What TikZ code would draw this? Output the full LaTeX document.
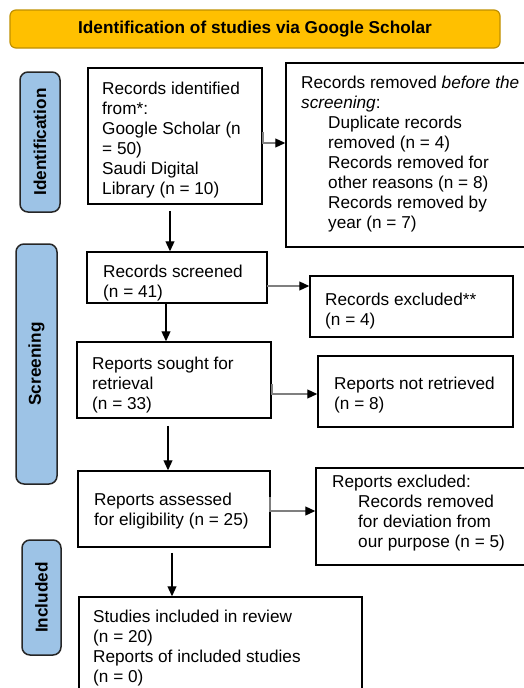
\documentclass[tikz,border=0pt]{standalone}
\usepackage{fontspec}
\setmainfont{Liberation Sans}
\usetikzlibrary{arrows.meta}
\definecolor{gold}{HTML}{FFC000}
\definecolor{golddk}{HTML}{BF9000}
\definecolor{barblue}{HTML}{9DC3E6}
\definecolor{conn}{HTML}{7F7F7F}
\begin{document}
\begin{tikzpicture}[x=1pt,y=-1pt,
  font=\fontsize{17.2}{20}\selectfont,
  box/.style={draw=black, line width=1.5pt, inner sep=0pt},
  bar/.style={draw=black!85, line width=1.5pt, fill=barblue, rounded corners=8pt, inner sep=0pt, font=\fontsize{17.2}{20}\selectfont\bfseries, rotate=90},
  txt/.style={anchor=north west, align=left, inner sep=0pt},
  varr/.style={line width=1.2pt, -{Triangle[length=10pt,width=9pt]}},
  harr/.style={line width=1.2pt, draw=conn, -{Triangle[length=10pt,width=9pt,color=black]}}]
\useasboundingbox (0,0) rectangle (523,688);

% title
\node[draw=golddk, fill=gold, line width=1.2pt, rounded corners=6pt, minimum width=490pt, minimum height=38pt, inner sep=0pt, font=\fontsize{17.2}{20}\selectfont\bfseries] (title) at (255,29) {Identification of studies via Google Scholar};

% phase bars
\node[bar, minimum width=140pt, minimum height=40pt] (bid) at (40,142) {Identification};
\node[bar, minimum width=240pt, minimum height=41pt] (bsc) at (36.5,364) {Screening};
\node[bar, minimum width=115pt, minimum height=39pt] (bin) at (41.5,597.5) {Included};

% boxes
\node[box, minimum width=174pt, minimum height=136pt] (b1) at (175,136) {};
\node[box, minimum width=244pt, minimum height=184pt] (rem) at (408,155) {};
\node[box, minimum width=180pt, minimum height=51pt] (scr) at (177,277.5) {};
\node[box, minimum width=203pt, minimum height=61pt] (exc) at (411.5,306.5) {};
\node[box, minimum width=194pt, minimum height=76pt] (sou) at (174,380) {};
\node[box, minimum width=195pt, minimum height=71pt] (nr) at (415.5,391.5) {};
\node[box, minimum width=192pt, minimum height=76pt] (ass) at (174,509) {};
\node[box, minimum width=214pt, minimum height=97pt] (exc2) at (423,516.5) {};
\node[box, minimum width=283pt, minimum height=103pt] (inc) at (220.5,648.5) {};

% texts
\node[txt] (t1) at (102,82) {Records identified\\from*:\\Google Scholar (n\\= 50)\\Saudi Digital\\Library (n = 10)};
\node[txt] (trem) at (301,76) {Records removed \textit{before the}\\\textit{screening}:\\\hspace*{27pt}Duplicate records\\\hspace*{27pt}removed (n = 4)\\\hspace*{27pt}Records removed for\\\hspace*{27pt}other reasons (n = 8)\\\hspace*{27pt}Records removed by\\\hspace*{27pt}year (n = 7)};
\node[txt] (tscr) at (103,265) {Records screened\\(n = 41)};
\node[txt] (texc) at (325,293) {Records excluded**\\(n = 4)};
\node[txt] (tsou) at (92,357) {Reports sought for\\retrieval\\(n = 33)};
\node[txt] (tnr) at (334,377) {Reports not retrieved\\(n = 8)};
\node[txt] (tass) at (94,493) {Reports assessed\\for eligibility (n = 25)};
\node[txt] (texc2) at (332,475) {Reports excluded:\\\hspace*{26pt}Records removed\\\hspace*{26pt}for deviation from\\\hspace*{26pt}our purpose (n = 5)};
\node[txt] (tinc) at (93,610) {Studies included in review\\(n = 20)\\Reports of included studies\\(n = 0)};

% helper coordinates
\coordinate (x170) at (170,0);
\coordinate (x166) at (166,0);
\coordinate (x168) at (168,0);
\coordinate (x172) at (172,0);
\coordinate (h1a) at (263,132);
\coordinate (h1b) at (263,143);
\coordinate (h2) at (267,286);
\coordinate (h3a) at (272,384);
\coordinate (h3b) at (272,394);
\coordinate (h4a) at (270,497);
\coordinate (h4b) at (270,511);

% vertical arrows
\draw[varr, shorten <=6pt] (x170 |- b1.south) -- (x170 |- scr.north);
\draw[varr] (x166 |- scr.south) -- (x166 |- sou.north);
\draw[varr, shorten <=7pt] (x168 |- sou.south) -- (x168 |- ass.north);
\draw[varr, shorten <=5pt] (x172 |- ass.south) -- (x172 |- inc.north);

% horizontal arrows
\draw[harr] (h1a) -- (h1b) -- (h1b -| rem.west);
\draw[harr] (h2) -- (h2 -| exc.west);
\draw[harr] (h3a) -- (h3b) -- (h3b -| nr.west);
\draw[harr] (h4a) -- (h4b) -- (h4b -| exc2.west);
\end{tikzpicture}
\end{document}
